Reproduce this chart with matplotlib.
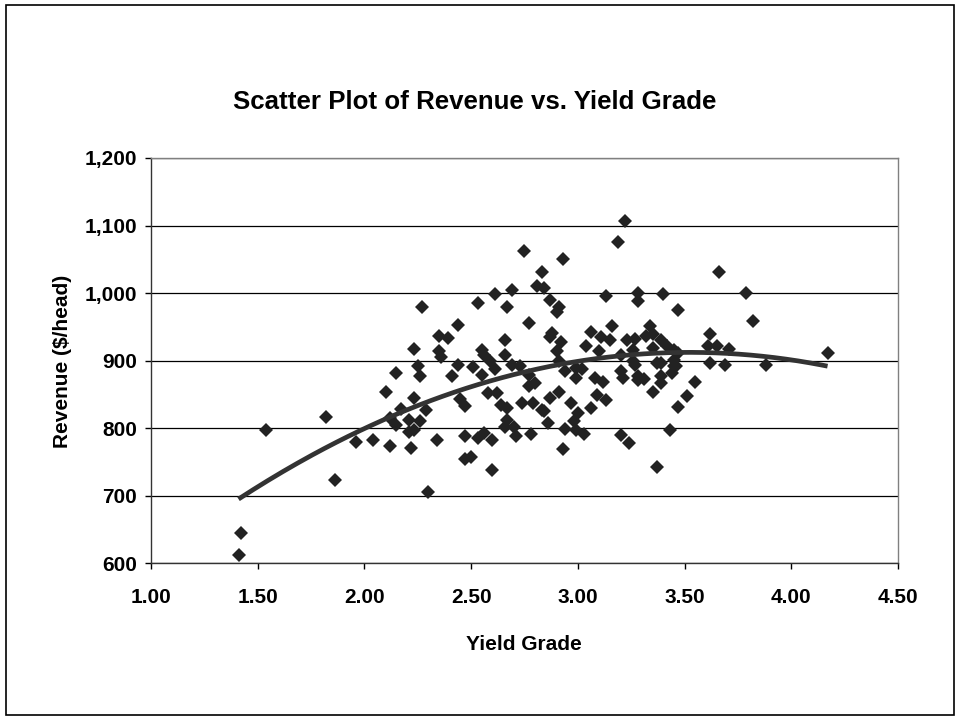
import matplotlib
matplotlib.use("Agg")
import matplotlib.pyplot as plt
from matplotlib.patches import Rectangle
from matplotlib.ticker import FuncFormatter
import numpy as np

# yield grade / revenue ($/head)
yield_grade = [
    1.41, 1.42, 1.54, 1.82, 1.86, 1.96, 2.04, 2.10, 2.12, 2.17,
    2.12, 2.15, 2.21, 2.26, 2.21, 2.23, 2.22, 2.23, 2.29, 2.15,
    2.26, 2.25, 2.23, 2.27, 2.34, 2.30, 2.35, 2.39, 2.35, 2.36,
    2.44, 2.44, 2.41, 2.45, 2.47, 2.47, 2.47, 2.50, 2.53, 2.56,
    2.60, 2.60, 2.51, 2.53, 2.55, 2.56, 2.55, 2.59, 2.61, 2.58,
    2.62, 2.64, 2.67, 2.61, 2.69, 2.67, 2.66, 2.66, 2.69, 2.73,
    2.77, 2.80, 2.77, 2.67, 2.66, 2.70, 2.71, 2.78, 2.74, 2.79,
    2.83, 2.75, 2.83, 2.81, 2.84, 2.77, 2.93, 2.87, 2.91, 2.90,
    2.88, 2.87, 2.92, 2.90, 2.91, 2.94, 2.99, 2.99, 3.02, 3.06,
    3.11, 3.04, 3.10, 3.15, 3.16, 3.13, 3.19, 3.22, 3.28, 3.28,
    3.40, 3.47, 3.34, 3.23, 3.27, 3.32, 3.35, 3.39, 3.42, 3.45,
    3.47, 3.35, 3.26, 3.20, 3.26, 3.37, 3.20, 3.28, 3.39, 3.44,
    3.45, 3.08, 3.12, 3.21, 3.27, 3.28, 3.31, 3.39, 3.35, 2.91,
    2.87, 3.09, 3.13, 2.97, 3.06, 2.84, 3.00, 3.47, 2.86, 2.98,
    2.94, 2.99, 3.03, 3.20, 3.24, 3.43, 2.93, 3.37, 3.66, 3.79,
    3.82, 3.62, 3.61, 3.65, 3.71, 4.17, 3.62, 3.69, 3.88, 3.39,
    3.45, 3.46, 3.55, 3.51,
]
revenue = [
    613, 645, 797, 816, 724, 780, 782, 853, 773, 828,
    815, 805, 812, 810, 795, 798, 771, 845, 827, 882,
    877, 892, 917, 980, 783, 705, 937, 933, 915, 905,
    953, 894, 877, 843, 833, 789, 754, 758, 785, 793,
    783, 738, 890, 986, 916, 909, 879, 899, 887, 852,
    852, 835, 830, 999, 1004, 979, 931, 909, 894, 892,
    879, 867, 862, 812, 802, 802, 789, 792, 837, 837,
    827, 1062, 1031, 1010, 1008, 956, 1051, 990, 980, 972,
    941, 935, 928, 915, 899, 884, 889, 874, 887, 943,
    935, 921, 914, 930, 952, 995, 1076, 1107, 1000, 988,
    999, 975, 952, 930, 932, 936, 939, 931, 921, 916,
    911, 919, 916, 909, 899, 897, 884, 877, 877, 882,
    892, 874, 869, 874, 894, 872, 873, 867, 854, 854,
    845, 849, 842, 837, 830, 826, 823, 832, 807, 810,
    799, 798, 792, 790, 778, 798, 769, 743, 1031, 1000,
    958, 939, 922, 922, 917, 911, 896, 893, 893, 897,
    901, 892, 869, 847,
]

x_ticks = [1.0, 1.5, 2.0, 2.5, 3.0, 3.5, 4.0, 4.5]
y_ticks = [600, 700, 800, 900, 1000, 1100, 1200]

plt.rcParams['font.family'] = ['Liberation Sans', 'DejaVu Sans']
plt.rcParams['font.weight'] = 'bold'

fig = plt.figure(figsize=(9.6, 7.21), dpi=100)
ax = fig.add_axes([0.1573, 0.2187, 0.7781, 0.5622])

x = np.array(yield_grade)
y = np.array(revenue)
ax.plot(x, y, linestyle='none', marker='D', markersize=6.9,
        markeredgewidth=0, color='#222222', zorder=3)

# 2nd order polynomial trendline
coef = np.polyfit(x, y, 2)
xs = np.linspace(x.min(), x.max(), 200)
ax.plot(xs, np.polyval(coef, xs), color='#333333', linewidth=3.4,
        solid_capstyle='butt', zorder=4)

ax.set_xlim(1.0, 4.5)
ax.set_ylim(600, 1200)
ax.set_xticks(x_ticks)
ax.set_yticks(y_ticks)
ax.xaxis.set_major_formatter(FuncFormatter(lambda v, p: f"{v:.2f}"))
ax.yaxis.set_major_formatter(FuncFormatter(lambda v, p: f"{v:,.0f}"))
ax.tick_params(axis='x', direction='out', length=4, width=1, pad=14,
               labelsize=15, colors='black')
ax.tick_params(axis='y', direction='out', length=4, width=1, pad=6,
               labelsize=15, colors='black')
for lbl in ax.get_xticklabels() + ax.get_yticklabels():
    lbl.set_fontweight('bold')

ax.yaxis.grid(True, color='black', linewidth=0.9)
ax.set_axisbelow(True)
ax.spines['left'].set_color('#333333')
ax.spines['bottom'].set_color('#333333')
ax.spines['top'].set_color('#808080')
ax.spines['right'].set_color('#808080')
for s in ax.spines.values():
    s.set_linewidth(1)

fig.text(0.494, 1 - 102 / 721, "Scatter Plot of Revenue vs. Yield Grade",
         ha='center', va='center', fontsize=18.6, fontweight='bold')
fig.text(524 / 960, 1 - 644 / 721, "Yield Grade",
         ha='center', va='center', fontsize=15, fontweight='bold')
fig.text(62 / 960, 1 - 361 / 721, "Revenue ($/head)", rotation=90,
         ha='center', va='center', fontsize=15, fontweight='bold')

# outer chart border
fig.patches.append(Rectangle((0.006, 0.008), 0.988, 0.985, transform=fig.transFigure,
                             fill=False, edgecolor='black', linewidth=1.2))

fig.savefig("out.png", dpi=100)
